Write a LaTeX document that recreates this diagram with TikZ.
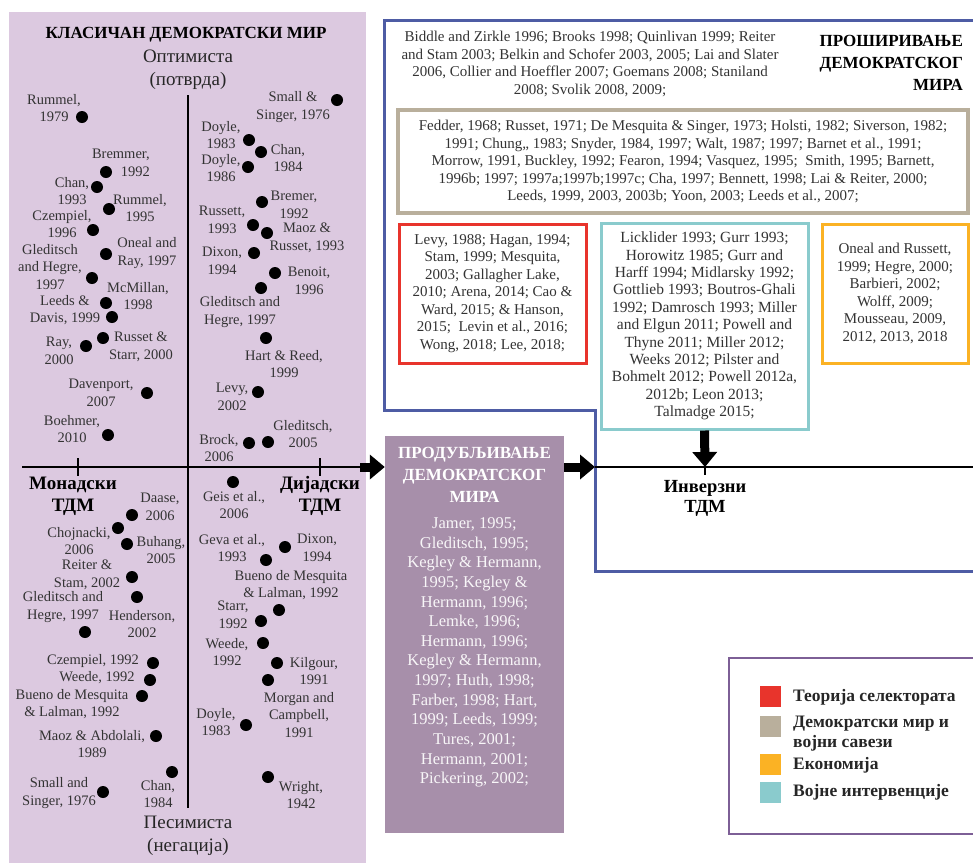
\documentclass[tikz,border=0pt]{standalone}
\usepackage{fontspec}
\setmainfont{Liberation Serif}
\usepackage{tikz}
\usetikzlibrary{arrows.meta}
\definecolor{lila}{RGB}{220,201,224}
\definecolor{ljubicasta}{RGB}{167,143,170}
\definecolor{plava}{RGB}{78,92,164}
\definecolor{crvena}{RGB}{232,52,44}
\definecolor{bez}{RGB}{185,175,156}
\definecolor{narandzasta}{RGB}{251,178,36}
\definecolor{tirkiz}{RGB}{138,203,205}
\definecolor{okvir}{RGB}{125,95,150}
\tikzset{
>=Stealth,
tacka/.style={circle,inner sep=0pt,minimum size=12pt,fill=black},
autor/.style={align=center,inner sep=0pt,text=black!80,font=\fontsize{14.5}{17.5}\selectfont},
naslov/.style={align=center,inner sep=0pt,font=\bfseries\fontsize{17}{22}\selectfont},
tdm/.style={align=center,inner sep=0pt,font=\bfseries\fontsize{19}{22}\selectfont},
pol/.style={align=center,inner sep=0pt,text=black!85,font=\fontsize{19}{23}\selectfont},
kutija/.style={draw=#1,line width=3pt,fill=white,align=center,inner sep=0pt,text=black!80,font=\fontsize{15}{17.5}\selectfont},
boja/.style={fill=#1,minimum size=21pt,inner sep=0pt},
legenda/.style={anchor=west,align=left,inner sep=0pt,text=black!85,font=\bfseries\fontsize{17.5}{20}\selectfont},
strelica/.style={line width=9pt,-{Triangle[length=15pt,width=24pt]}},
osa/.style={line width=1.4pt}}

\begin{document}
\begin{tikzpicture}[x=1pt,y=-1pt]

\useasboundingbox (0,0) rectangle (973,863);
\clip (0,0) rectangle (973,863);

% klasican demokratski mir
\fill[lila] (9,12) rectangle (366,863);
\node[naslov] (klasican) at (186,35) {КЛАСИЧАН ДЕМОКРАТСКИ МИР};
\node[pol] (optimisti) at (188,70) {Оптимиста\\(потврда)};
\node[pol] (pesimisti) at (188,836) {Песимиста\\(негација)};
\node[tdm] (monadski) at (73,496) {Монадски\\ТДМ};
\node[tdm] (dijadski) at (320,496) {Дијадски\\ТДМ};

\coordinate (osl) at (22,467);
\coordinate (osd) at (360,467);
\coordinate (osg) at (188,95);
\coordinate (osdn) at (188,808);
\draw[osa] (osg) -- (osdn);
\draw[osa] (osl) -- (osd);
\draw[osa] (78,458) -- (78,476);
\draw[osa] (320,458) -- (320,476);

\node[tacka] (1) at (82,117) {};
\node[tacka] (2) at (106,172) {};
\node[tacka] (3) at (97,187) {};
\node[tacka] (4) at (109,209) {};
\node[tacka] (5) at (93,230) {};
\node[tacka] (6) at (92,278) {};
\node[tacka] (7) at (106,254) {};
\node[tacka] (8) at (106,303) {};
\node[tacka] (9) at (112,317) {};
\node[tacka] (10) at (86,346) {};
\node[tacka] (11) at (103,338) {};
\node[tacka] (12) at (147,393) {};
\node[tacka] (13) at (108,435) {};
\node[tacka] (14) at (337,100) {};
\node[tacka] (15) at (249,140) {};
\node[tacka] (16) at (261,152) {};
\node[tacka] (17) at (248,167) {};
\node[tacka] (18) at (262,202) {};
\node[tacka] (19) at (253,225) {};
\node[tacka] (20) at (267,233) {};
\node[tacka] (21) at (254,253) {};
\node[tacka] (22) at (275,273) {};
\node[tacka] (23) at (261,288) {};
\node[tacka] (24) at (266,338) {};
\node[tacka] (25) at (258,392) {};
\node[tacka] (26) at (268,442) {};
\node[tacka] (27) at (249,443) {};
\node[tacka] (28) at (132,515) {};
\node[tacka] (29) at (118,528) {};
\node[tacka] (30) at (127,544) {};
\node[tacka] (31) at (132,577) {};
\node[tacka] (32) at (85,632) {};
\node[tacka] (33) at (137,597) {};
\node[tacka] (34) at (153,663) {};
\node[tacka] (35) at (150,680) {};
\node[tacka] (36) at (142,696) {};
\node[tacka] (37) at (156,736) {};
\node[tacka] (38) at (172,772) {};
\node[tacka] (39) at (103,792) {};
\node[tacka] (40) at (233,482) {};
\node[tacka] (41) at (266,560) {};
\node[tacka] (42) at (285,547) {};
\node[tacka] (43) at (279,610) {};
\node[tacka] (44) at (261,621) {};
\node[tacka] (45) at (263,643) {};
\node[tacka] (46) at (277,663) {};
\node[tacka] (47) at (268,680) {};
\node[tacka] (48) at (246,725) {};
\node[tacka] (49) at (268,777) {};

\node[autor] (l1) at (54,108) {Rummel,\\1979};
\node[autor,anchor=east,align=right] (l2) at (150,163) {Bremmer,\\1992};
\node[autor] (l3) at (72,191) {Chan,\\1993};
\node[autor] (l4) at (140,208) {Rummel,\\1995};
\node[autor] (l5) at (62,224) {Czempiel,\\1996};
\node[autor] (l6) at (50,267) {Gleditsch\\and Hegre,\\1997};
\node[autor] (l7) at (147,253) {Oneal and\\Ray, 1997};
\node[autor] (l8) at (138,296) {McMillan,\\1998};
\node[autor] (l9) at (65,310) {Leeds \&\\Davis, 1999};
\node[autor] (l10) at (59,351) {Ray,\\2000};
\node[autor] (l11) at (141,347) {Russet \&\\Starr, 2000};
\node[autor] (l12) at (101,393) {Davenport,\\2007};
\node[autor] (l13) at (72,429) {Boehmer,\\2010};
\node[autor] (l14) at (293,107) {Small \&\\Singer, 1976};
\node[autor] (l15) at (221,135) {Doyle,\\1983};
\node[autor] (l16) at (288,158) {Chan,\\1984};
\node[autor] (l17) at (221,168) {Doyle,\\1986};
\node[autor] (l18) at (294,205) {Bremer,\\1992};
\node[autor] (l19) at (222,220) {Russett,\\1993};
\node[autor] (l20) at (307,238) {Maoz \&\\Russet, 1993};
\node[autor] (l21) at (222,261) {Dixon,\\1994};
\node[autor] (l22) at (309,281) {Benoit,\\1996};
\node[autor] (l23) at (240,312) {Gleditsch and\\Hegre, 1997};
\node[autor] (l24) at (284,364) {Hart \& Reed,\\1999};
\node[autor] (l25) at (232,397) {Levy,\\2002};
\node[autor] (l26) at (303,434) {Gleditsch,\\2005};
\node[autor] (l27) at (219,448) {Brock,\\2006};
\node[autor] (l28) at (160,507) {Daase,\\2006};
\node[autor] (l29) at (79,541) {Chojnacki,\\2006};
\node[autor] (l30) at (161,550) {Buhang,\\2005};
\node[autor] (l31) at (87,575) {Reiter \&\\Stam, 2002};
\node[autor] (l32) at (63,607) {Gleditsch and\\Hegre, 1997};
\node[autor] (l33) at (142,624) {Henderson,\\2002};
\node[autor] (l34) at (93,661) {Czempiel, 1992};
\node[autor] (l35) at (97,678) {Weede, 1992};
\node[autor] (l36) at (72,704) {Bueno de Mesquita\\\& Lalman, 1992};
\node[autor] (l37) at (92,744) {Maoz \& Abdolali,\\1989};
\node[autor] (l38) at (158,794) {Chan,\\1984};
\node[autor] (l39) at (59,793) {Small and\\Singer, 1976};
\node[autor] (l40) at (234,505) {Geis et al.,\\2006};
\node[autor] (l41) at (232,548) {Geva et al.,\\1993};
\node[autor] (l42) at (317,548) {Dixon,\\1994};
\node[autor] (l43) at (291,585) {Bueno de Mesquita\\\& Lalman, 1992};
\node[autor] (l44) at (233,615) {Starr,\\1992};
\node[autor] (l45) at (227,652) {Weede,\\1992};
\node[autor] (l46) at (314,671) {Kilgour,\\1991};
\node[autor] (l47) at (299,715) {Morgan and\\Campbell,\\1991};
\node[autor] (l48) at (216,722) {Doyle,\\1983};
\node[autor] (l49) at (301,795) {Wright,\\1942};

% produbljivanje
\node[fill=ljubicasta,minimum width=179pt,minimum height=397pt,inner sep=0pt] (prod) at (474.5,634.5) {};
\node[naslov,text=white] (prodnaslov) at (474.5,475) {ПРОДУБЉИВАЊЕ\\ДЕМОКРАТСКОГ\\МИРА};
\node[autor,text=white!92!ljubicasta,font=\fontsize{16.5}{19.6}\selectfont] (prodtxt) at (474.5,652.5) {Jamer, 1995;\\Gleditsch, 1995;\\Kegley \& Hermann,\\1995; Kegley \&\\Hermann, 1996;\\Lemke, 1996;\\Hermann, 1996;\\Kegley \& Hermann,\\1997; Huth, 1998;\\Farber, 1998; Hart,\\1999; Leeds, 1999;\\Tures, 2001;\\Hermann, 2001;\\Pickering, 2002;};
\draw[strelica] (osd) -- (osd -| prod.west);

% prosirivanje
\draw[plava,line width=3pt] (985,20) -- (384,20) -- (384,410) -- (595,410) -- (595,571) -- (985,571);
\node[autor,font=\fontsize{15}{17.5}\selectfont] (prostxt) at (590,64) {Biddle and Zirkle 1996; Brooks 1998; Quinlivan 1999; Reiter\\and Stam 2003; Belkin and Schofer 2003, 2005; Lai and Slater\\2006, Collier and Hoeffler 2007; Goemans 2008; Staniland\\2008; Svolik 2008, 2009;};
\node[naslov,anchor=east,align=right] (prosnaslov) at (963,63) {ПРОШИРИВАЊЕ\\ДЕМОКРАТСКОГ\\МИРА};
\node[kutija=bez,line width=4pt,minimum width=570pt,minimum height=103pt] (savezi) at (683,161.5) {Fedder, 1968; Russet, 1971; De Mesquita \& Singer, 1973; Holsti, 1982; Siverson, 1982;\\1991; Chung,, 1983; Snyder, 1984, 1997; Walt, 1987; 1997; Barnet et al., 1991;\\Morrow, 1991, Buckley, 1992; Fearon, 1994; Vasquez, 1995;\ \ Smith, 1995; Barnett,\\1996b; 1997; 1997a;1997b;1997c; Cha, 1997; Bennett, 1998; Lai \& Reiter, 2000;\\Leeds, 1999, 2003, 2003b; Yoon, 2003; Leeds et al., 2007;};
\node[kutija=crvena,minimum width=187pt,minimum height=139pt] (selektorat) at (492.5,293.5) {Levy, 1988; Hagan, 1994;\\Stam, 1999; Mesquita,\\2003; Gallagher Lake,\\2010; Arena, 2014; Cao \&\\Ward, 2015; \& Hanson,\\2015;\ \ Levin et al., 2016;\\Wong, 2018; Lee, 2018;};
\node[kutija=tirkiz,minimum width=207pt,minimum height=206pt,font=\fontsize{15.5}{17.4}\selectfont] (interv) at (704.5,326) {Licklider 1993; Gurr 1993;\\Horowitz 1985; Gurr and\\Harff 1994; Midlarsky 1992;\\Gottlieb 1993; Boutros-Ghali\\1992; Damrosch 1993; Miller\\and Elgun 2011; Powell and\\Thyne 2011; Miller 2012;\\Weeks 2012; Pilster and\\Bohmelt 2012; Powell 2012a,\\2012b; Leon 2013;\\Talmadge 2015;};
\node[kutija=narandzasta,minimum width=146pt,minimum height=139pt] (ekonomija) at (895,293.5) {Oneal and Russett,\\1999; Hegre, 2000;\\Barbieri, 2002;\\Wolff, 2009;\\Mousseau, 2009,\\2012, 2013, 2018};

% inverzni
\coordinate (invl) at (595,467);
\coordinate (invr) at (985,467);
\coordinate (invt) at (705,467);
\draw[osa] (invl) -- (invr);
\draw[osa] (invt) -- ++(0,8);
\draw[strelica] (invl -| prod.east) -- (invl);
\draw[strelica] (interv.south) -- (invt);
\node[tdm,font=\bfseries\fontsize{18.5}{20}\selectfont] (inverzni) at (705,498) {Инверзни\\ТДМ};

% legenda
\draw[okvir,line width=2pt] (729,658) rectangle (985,834);
\node[boja=crvena] (b1) at (770.5,696.5) {};
\node[boja=bez] (b2) at (770.5,726.5) {};
\node[boja=narandzasta] (b3) at (770.5,764.5) {};
\node[boja=tirkiz] (b4) at (770.5,792.5) {};
\node[legenda] (t1) at (793,697) {Теорија селектората};
\node[legenda] (t2) at (793,734) {Демократски мир и\\војни савези};
\node[legenda] (t3) at (793,765) {Економија};
\node[legenda] (t4) at (793,792) {Војне интервенције};

\end{tikzpicture}
\end{document}
